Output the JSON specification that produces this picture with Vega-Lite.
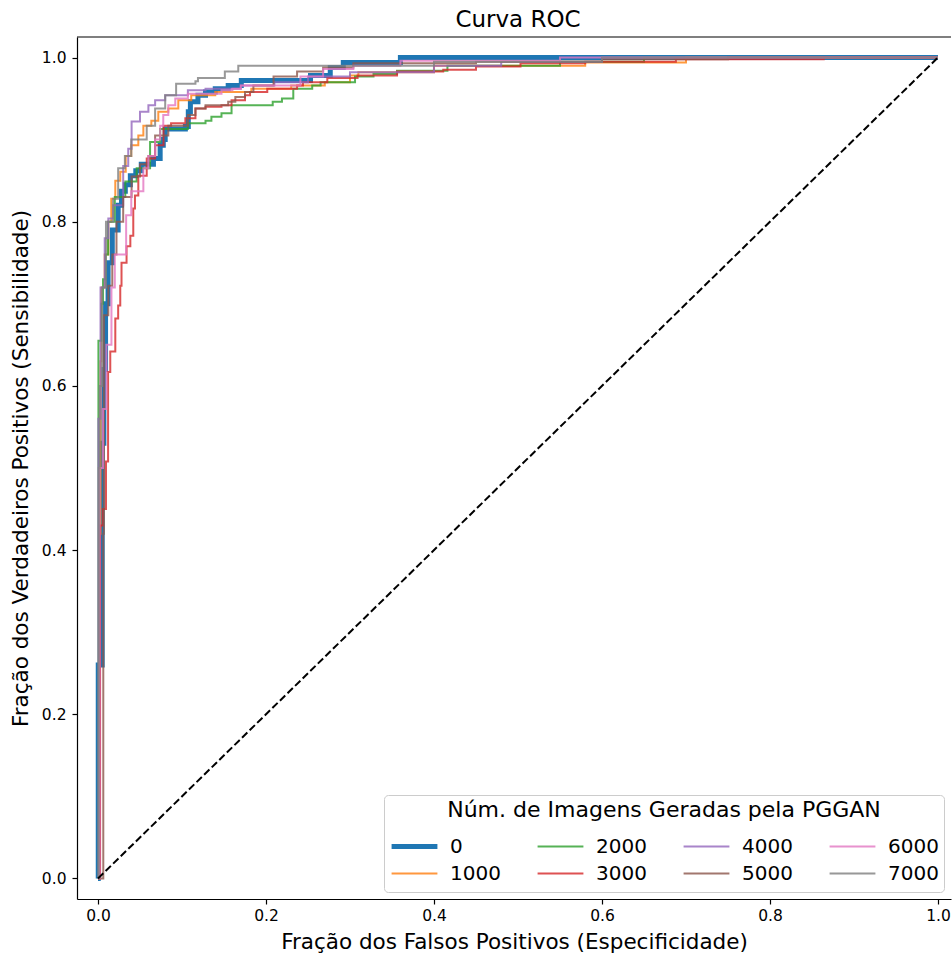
{
  "$schema": "https://vega.github.io/schema/vega-lite/v6.json",
  "width": 874,
  "height": 862,
  "autosize": {"type": "none"},
  "padding": {"left": 77, "top": 37, "right": 1, "bottom": 59},
  "background": "white",
  "config": {
    "font": "DejaVu Sans",
    "view": {"stroke": null},
    "axis": {"grid": false, "domainColor": "black", "domainWidth": 1.2, "tickColor": "black", "tickWidth": 1.2, "tickSize": 5, "labelColor": "black", "labelFontSize": 15.5, "labelFont": "DejaVu Sans", "titleFont": "DejaVu Sans", "titleFontSize": 21.5, "titleFontWeight": "normal", "titleColor": "black"},
    "title": {"font": "DejaVu Sans", "fontSize": 23, "fontWeight": "normal", "color": "black"}
  },
  "title": {"text": "Curva ROC", "anchor": "middle", "frame": "group", "offset": 4, "dx": 4},
  "datasets": {
    "diag": [{"x": 0, "y": 0}, {"x": 1, "y": 1}],
    "roc": [
      {"s":"0","x":0,"y":0},{"s":"0","x":0.0003,"y":0.26},{"s":"0","x":0.005,"y":0.53},{"s":"0","x":0.007,"y":0.62},{"s":"0","x":0.009,"y":0.70},{"s":"0","x":0.012,"y":0.75},{"s":"0","x":0.017,"y":0.79},{"s":"0","x":0.024,"y":0.82},{"s":"0","x":0.028,"y":0.837},{"s":"0","x":0.0325,"y":0.845},{"s":"0","x":0.0385,"y":0.856},{"s":"0","x":0.045,"y":0.862},{"s":"0","x":0.0515,"y":0.87},{"s":"0","x":0.066,"y":0.877},{"s":"0","x":0.074,"y":0.893},{"s":"0","x":0.0777,"y":0.90},{"s":"0","x":0.080,"y":0.913},{"s":"0","x":0.104,"y":0.916},{"s":"0","x":0.1075,"y":0.934},{"s":"0","x":0.110,"y":0.946},{"s":"0","x":0.119,"y":0.954},{"s":"0","x":0.128,"y":0.958},{"s":"0","x":0.1396,"y":0.962},{"s":"0","x":0.155,"y":0.966},{"s":"0","x":0.1706,"y":0.972},{"s":"0","x":0.253,"y":0.978},{"s":"0","x":0.2765,"y":0.988},{"s":"0","x":0.292,"y":0.994},{"s":"0","x":0.36,"y":1.0},{"s":"0","x":1.0,"y":1.0},
      {"s":"1000","x":0,"y":0},{"s":"1000","x":0.0015,"y":0.42},{"s":"1000","x":0.003,"y":0.63},{"s":"1000","x":0.004,"y":0.72},{"s":"1000","x":0.008,"y":0.76},{"s":"1000","x":0.0123,"y":0.80},{"s":"1000","x":0.0158,"y":0.828},{"s":"1000","x":0.0206,"y":0.85},{"s":"1000","x":0.0265,"y":0.861},{"s":"1000","x":0.033,"y":0.88},{"s":"1000","x":0.0396,"y":0.893},{"s":"1000","x":0.048,"y":0.905},{"s":"1000","x":0.054,"y":0.917},{"s":"1000","x":0.0635,"y":0.923},{"s":"1000","x":0.0718,"y":0.934},{"s":"1000","x":0.0837,"y":0.938},{"s":"1000","x":0.0956,"y":0.948},{"s":"1000","x":0.111,"y":0.954},{"s":"1000","x":0.1396,"y":0.958},{"s":"1000","x":0.1825,"y":0.962},{"s":"1000","x":0.23,"y":0.966},{"s":"1000","x":0.27,"y":0.97},{"s":"1000","x":0.30,"y":0.978},{"s":"1000","x":0.31,"y":0.982},{"s":"1000","x":0.40,"y":0.99},{"s":"1000","x":0.58,"y":0.994},{"s":"1000","x":0.70,"y":1.0},{"s":"1000","x":1.0,"y":1.0},
      {"s":"2000","x":0,"y":0},{"s":"2000","x":0.0005,"y":0.655},{"s":"2000","x":0.004,"y":0.70},{"s":"2000","x":0.006,"y":0.73},{"s":"2000","x":0.009,"y":0.76},{"s":"2000","x":0.012,"y":0.80},{"s":"2000","x":0.02,"y":0.83},{"s":"2000","x":0.0325,"y":0.849},{"s":"2000","x":0.046,"y":0.865},{"s":"2000","x":0.062,"y":0.897},{"s":"2000","x":0.074,"y":0.913},{"s":"2000","x":0.107,"y":0.92},{"s":"2000","x":0.128,"y":0.923},{"s":"2000","x":0.135,"y":0.928},{"s":"2000","x":0.147,"y":0.932},{"s":"2000","x":0.159,"y":0.942},{"s":"2000","x":0.208,"y":0.946},{"s":"2000","x":0.219,"y":0.95},{"s":"2000","x":0.2325,"y":0.962},{"s":"2000","x":0.255,"y":0.966},{"s":"2000","x":0.265,"y":0.97},{"s":"2000","x":0.306,"y":0.977},{"s":"2000","x":0.328,"y":0.98},{"s":"2000","x":0.356,"y":0.984},{"s":"2000","x":0.416,"y":0.99},{"s":"2000","x":0.55,"y":0.995},{"s":"2000","x":0.65,"y":1.0},{"s":"2000","x":1.0,"y":1.0},
      {"s":"3000","x":0,"y":0},{"s":"3000","x":0.0025,"y":0.43},{"s":"3000","x":0.006,"y":0.45},{"s":"3000","x":0.0095,"y":0.508},{"s":"3000","x":0.012,"y":0.617},{"s":"3000","x":0.0146,"y":0.642},{"s":"3000","x":0.0206,"y":0.682},{"s":"3000","x":0.024,"y":0.698},{"s":"3000","x":0.0265,"y":0.722},{"s":"3000","x":0.028,"y":0.75},{"s":"3000","x":0.034,"y":0.77},{"s":"3000","x":0.0385,"y":0.783},{"s":"3000","x":0.042,"y":0.816},{"s":"3000","x":0.044,"y":0.832},{"s":"3000","x":0.048,"y":0.856},{"s":"3000","x":0.058,"y":0.877},{"s":"3000","x":0.068,"y":0.893},{"s":"3000","x":0.078,"y":0.917},{"s":"3000","x":0.087,"y":0.92},{"s":"3000","x":0.104,"y":0.926},{"s":"3000","x":0.116,"y":0.938},{"s":"3000","x":0.128,"y":0.94},{"s":"3000","x":0.147,"y":0.942},{"s":"3000","x":0.159,"y":0.948},{"s":"3000","x":0.175,"y":0.954},{"s":"3000","x":0.181,"y":0.958},{"s":"3000","x":0.2015,"y":0.962},{"s":"3000","x":0.237,"y":0.966},{"s":"3000","x":0.244,"y":0.97},{"s":"3000","x":0.273,"y":0.975},{"s":"3000","x":0.309,"y":0.978},{"s":"3000","x":0.356,"y":0.983},{"s":"3000","x":0.411,"y":0.985},{"s":"3000","x":0.45,"y":0.989},{"s":"3000","x":0.503,"y":0.993},{"s":"3000","x":0.58,"y":0.995},{"s":"3000","x":0.688,"y":0.998},{"s":"3000","x":0.864,"y":1.0},{"s":"3000","x":1.0,"y":1.0},
      {"s":"4000","x":0,"y":0},{"s":"4000","x":0.0005,"y":0.56},{"s":"4000","x":0.003,"y":0.72},{"s":"4000","x":0.008,"y":0.78},{"s":"4000","x":0.0123,"y":0.804},{"s":"4000","x":0.018,"y":0.82},{"s":"4000","x":0.03,"y":0.868},{"s":"4000","x":0.036,"y":0.889},{"s":"4000","x":0.04,"y":0.922},{"s":"4000","x":0.05,"y":0.934},{"s":"4000","x":0.06,"y":0.942},{"s":"4000","x":0.068,"y":0.948},{"s":"4000","x":0.08,"y":0.954},{"s":"4000","x":0.107,"y":0.96},{"s":"4000","x":0.128,"y":0.962},{"s":"4000","x":0.17,"y":0.966},{"s":"4000","x":0.21,"y":0.97},{"s":"4000","x":0.25,"y":0.977},{"s":"4000","x":0.30,"y":0.982},{"s":"4000","x":0.40,"y":0.99},{"s":"4000","x":0.48,"y":0.995},{"s":"4000","x":0.60,"y":1.0},{"s":"4000","x":1.0,"y":1.0},
      {"s":"5000","x":0,"y":0},{"s":"5000","x":0.0063,"y":0.42},{"s":"5000","x":0.007,"y":0.686},{"s":"5000","x":0.0123,"y":0.722},{"s":"5000","x":0.017,"y":0.76},{"s":"5000","x":0.022,"y":0.80},{"s":"5000","x":0.03,"y":0.83},{"s":"5000","x":0.04,"y":0.855},{"s":"5000","x":0.05,"y":0.87},{"s":"5000","x":0.06,"y":0.88},{"s":"5000","x":0.068,"y":0.905},{"s":"5000","x":0.0837,"y":0.917},{"s":"5000","x":0.107,"y":0.93},{"s":"5000","x":0.116,"y":0.938},{"s":"5000","x":0.128,"y":0.942},{"s":"5000","x":0.155,"y":0.946},{"s":"5000","x":0.1635,"y":0.952},{"s":"5000","x":0.175,"y":0.958},{"s":"5000","x":0.185,"y":0.966},{"s":"5000","x":0.209,"y":0.977},{"s":"5000","x":0.237,"y":0.983},{"s":"5000","x":0.268,"y":0.988},{"s":"5000","x":0.304,"y":0.993},{"s":"5000","x":0.45,"y":0.995},{"s":"5000","x":0.60,"y":0.998},{"s":"5000","x":0.75,"y":1.0},{"s":"5000","x":1.0,"y":1.0},
      {"s":"6000","x":0,"y":0},{"s":"6000","x":0.002,"y":0.5},{"s":"6000","x":0.006,"y":0.572},{"s":"6000","x":0.01,"y":0.65},{"s":"6000","x":0.016,"y":0.72},{"s":"6000","x":0.02,"y":0.76},{"s":"6000","x":0.0335,"y":0.808},{"s":"6000","x":0.0396,"y":0.837},{"s":"6000","x":0.054,"y":0.865},{"s":"6000","x":0.06,"y":0.88},{"s":"6000","x":0.068,"y":0.90},{"s":"6000","x":0.074,"y":0.917},{"s":"6000","x":0.0777,"y":0.93},{"s":"6000","x":0.0837,"y":0.942},{"s":"6000","x":0.092,"y":0.95},{"s":"6000","x":0.107,"y":0.956},{"s":"6000","x":0.147,"y":0.96},{"s":"6000","x":0.16,"y":0.962},{"s":"6000","x":0.17,"y":0.966},{"s":"6000","x":0.241,"y":0.977},{"s":"6000","x":0.268,"y":0.986},{"s":"6000","x":0.304,"y":0.99},{"s":"6000","x":0.36,"y":0.996},{"s":"6000","x":0.55,"y":1.0},{"s":"6000","x":1.0,"y":1.0},
      {"s":"7000","x":0,"y":0},{"s":"7000","x":0.001,"y":0.5},{"s":"7000","x":0.002,"y":0.6},{"s":"7000","x":0.005,"y":0.72},{"s":"7000","x":0.0095,"y":0.8},{"s":"7000","x":0.018,"y":0.828},{"s":"7000","x":0.024,"y":0.865},{"s":"7000","x":0.032,"y":0.88},{"s":"7000","x":0.0396,"y":0.9},{"s":"7000","x":0.058,"y":0.917},{"s":"7000","x":0.068,"y":0.938},{"s":"7000","x":0.08,"y":0.954},{"s":"7000","x":0.093,"y":0.968},{"s":"7000","x":0.116,"y":0.971},{"s":"7000","x":0.119,"y":0.975},{"s":"7000","x":0.151,"y":0.983},{"s":"7000","x":0.167,"y":0.99},{"s":"7000","x":0.40,"y":0.995},{"s":"7000","x":0.60,"y":1.0},{"s":"7000","x":1.0,"y":1.0}
    ]
  },
  "layer": [
    {
      "data": {"name": "roc"},
      "mark": {"type": "line", "interpolate": "step-after", "clip": true},
      "encoding": {
        "x": {"field": "x", "type": "quantitative", "scale": {"domain": [-0.025, 1.0155], "nice": false, "zero": false},
          "axis": {"values": [0, 0.2, 0.4, 0.6, 0.8, 1.0], "format": ".1f", "title": "Fração dos Falsos Positivos (Especificidade)", "labelPadding": 4, "titlePadding": 8}},
        "y": {"field": "y", "type": "quantitative", "scale": {"domain": [-0.025, 1.025], "nice": false, "zero": false},
          "axis": {"values": [0, 0.2, 0.4, 0.6, 0.8, 1.0], "format": ".1f", "title": "Fração dos Verdadeiros Positivos (Sensibilidade)", "labelPadding": 6, "titlePadding": 9}},
        "color": {"field": "s", "type": "nominal", "scale": {"domain": ["0","2000","4000","6000","1000","3000","5000","7000"], "range": ["#1f77b4","#2ca02c","#9467bd","#e377c2","#ff7f0e","#d62728","#8c564b","#7f7f7f"]},
          "legend": {"title": "Núm. de Imagens Geradas pela PGGAN", "orient": "none", "legendX": 307, "legendY": 758, "columns": 4, "direction": "horizontal", "symbolType": "stroke", "symbolSize": 2100, "clipHeight": 27, "labelFontSize": 20, "titleFontSize": 22, "titleFontWeight": "normal", "titleColor": "black", "labelColor": "black", "titleAnchor": "middle", "titleLimit": 1000, "labelLimit": 200, "fillColor": "white", "strokeColor": "#cccccc", "cornerRadius": 4, "padding": 5, "labelOffset": 10, "columnPadding": 34, "rowPadding": 0, "titlePadding": 11}},
        "strokeWidth": {"field": "s", "type": "nominal", "scale": {"type": "ordinal", "domain": ["0","2000","4000","6000","1000","3000","5000","7000"], "range": [5,2,2,2,2,2,2,2]}},
        "opacity": {"field": "s", "type": "nominal", "scale": {"type": "ordinal", "domain": ["0","2000","4000","6000","1000","3000","5000","7000"], "range": [1,0.8,0.8,0.8,0.8,0.8,0.8,0.8]}}
      }
    },
    {
      "data": {"name": "diag"},
      "mark": {"type": "line", "color": "black", "strokeWidth": 2, "strokeDash": [7.4, 3.2]},
      "encoding": {
        "x": {"field": "x", "type": "quantitative"},
        "y": {"field": "y", "type": "quantitative"}
      }
    },
    {
      "data": {"values": [{"t": 1}]},
      "mark": {"type": "rule", "color": "black", "strokeWidth": 1.2},
      "encoding": {"y": {"datum": 1.025, "type": "quantitative"}}
    }
  ]
}
